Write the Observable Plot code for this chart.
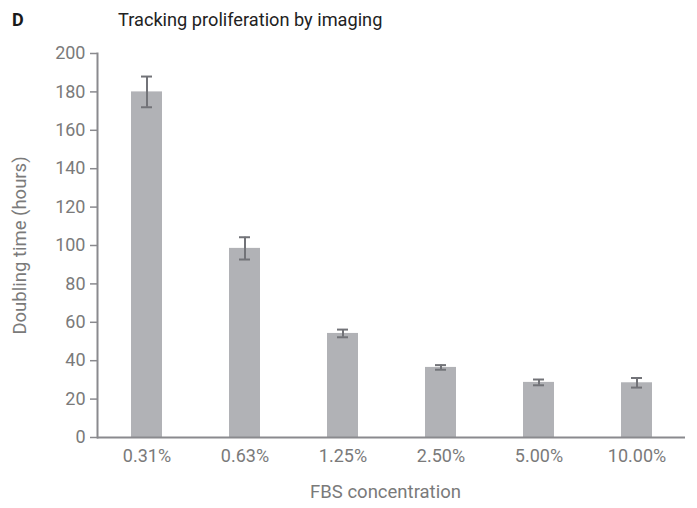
<!DOCTYPE html>
<html>
<head>
<meta charset="utf-8">
<script src="https://cdn.jsdelivr.net/npm/d3@7"></script>
<script src="https://cdn.jsdelivr.net/npm/@observablehq/plot@0.6"></script>
<style>
  html, body { margin: 0; padding: 0; background: #fff; }
  #wrap { width: 697px; height: 508px; position: relative; font-family: Roboto, "Noto Sans", sans-serif; }
  #head { height: 40px; position: relative; }
  #panel { position: absolute; left: 12px; top: 9px; font-size: 18px; font-weight: 700; color: #1a1a1a; }
  #title { position: absolute; left: 118px; top: 9px; font-size: 18.2px; color: #222; }
  svg { display: block; }
</style>
</head>
<body>
<div id="wrap">
  <div id="head"><span id="panel">D</span><span id="title">Tracking proliferation by imaging</span></div>
  <div id="chart"></div>
</div>
<script>
// FBS concentrations and mean doubling time (hours) with error (±)
const concentrations = ["0.31%", "0.63%", "1.25%", "2.50%", "5.00%", "10.00%"];
const doublingTime = [180, 98.5, 54.2, 36.5, 28.7, 28.5];
const errorHalf = [8, 5.8, 2.0, 1.2, 1.5, 2.5];
const yTicks = [0, 20, 40, 60, 80, 100, 120, 140, 160, 180, 200];

const rows = concentrations.map((c, i) => ({
  conc: c,
  value: doublingTime[i],
  lo: doublingTime[i] - errorHalf[i],
  hi: doublingTime[i] + errorHalf[i]
}));

const axisColor = "#8a8a8e";
const textColor = "#7a7a7a";

const chart = Plot.plot({
  width: 697,
  height: 468,
  marginTop: 13,
  marginBottom: 71,
  marginLeft: 97,
  marginRight: 12,
  style: { fontFamily: "Roboto, 'Noto Sans', sans-serif", fontSize: "18px", fontWeight: 400, color: textColor, background: "#fff" },
  x: { domain: concentrations, paddingInner: 0.684, paddingOuter: 0.342, label: null },
  y: { domain: [0, 200], ticks: yTicks, label: null },
  marks: [
    Plot.barY(rows, { x: "conc", y: "value", fill: "#b1b2b6" }),
    Plot.ruleX(rows, { x: "conc", y1: "lo", y2: "hi", stroke: "#727378", strokeWidth: 2 }),
    Plot.tickY(rows, { x: "conc", y: "hi", stroke: "#727378", strokeWidth: 2, insetLeft: 10, insetRight: 10 }),
    Plot.tickY(rows, { x: "conc", y: "lo", stroke: "#727378", strokeWidth: 2, insetLeft: 10, insetRight: 10 }),
    Plot.axisY({ ticks: yTicks, tickSize: 7, tickPadding: 5, stroke: axisColor, strokeWidth: 1.5, fill: textColor, label: null }),
    Plot.axisX({ tickSize: 0, tickPadding: 12, fill: textColor, label: null }),
    Plot.ruleY([0], { stroke: axisColor, strokeWidth: 2 }),
    Plot.frame({ anchor: "left", stroke: axisColor, strokeWidth: 2 }),
    Plot.text(["FBS concentration"], { frameAnchor: "bottom", dx: -6, dy: 60, fill: textColor, fontSize: 18.5 }),
    Plot.text(["Doubling time (hours)"], { frameAnchor: "left", textAnchor: "middle", dx: -77, rotate: -90, fill: textColor, fontSize: 18.5 })
  ]
});
document.getElementById("chart").appendChild(chart);
</script>
</body>
</html>
